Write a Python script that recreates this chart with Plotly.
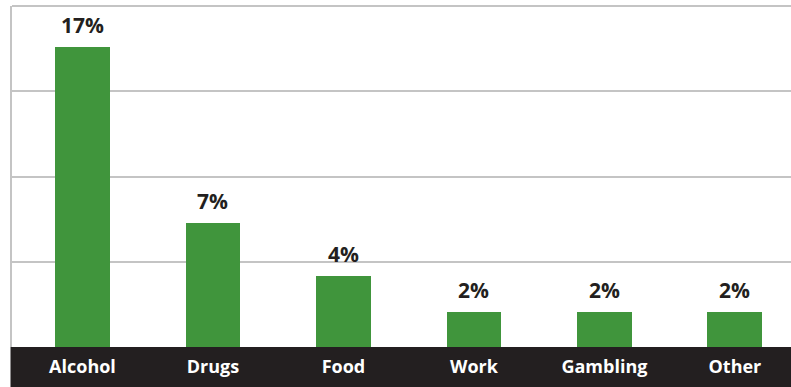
import plotly.graph_objects as go

# Share of respondents by type of addiction
categories = ["Alcohol", "Drugs", "Food", "Work", "Gambling", "Other"]
values = [17, 7, 4, 2, 2, 2]
value_labels = [f"{v}%" for v in values]

Y_MAX = 19.3
GRID_STEP = Y_MAX / 4

BAR_GREEN = "#40953c"
INK = "#231f20"
GRID = "#c4c4c4"

positions = list(range(len(categories)))

fig = go.Figure(
    go.Bar(
        x=positions,
        y=values,
        width=0.42,
        marker=dict(color=BAR_GREEN, line=dict(width=0)),
        hoverinfo="skip",
    )
)

# value labels sitting above each bar
for xp, v, lab in zip(positions, values, value_labels):
    fig.add_annotation(
        x=xp, y=v, text=f"<b>{lab}</b>",
        showarrow=False, yanchor="bottom", yshift=6,
        font=dict(family="Open Sans", size=21, color=INK),
    )

fig.update_layout(
    width=791,
    height=387,
    margin=dict(l=12, r=0, t=6, b=40),
    paper_bgcolor="white",
    plot_bgcolor="white",
    showlegend=False,
    bargap=0,
)

fig.update_xaxes(
    range=[-0.54, 5.43],
    tickmode="array",
    tickvals=positions,
    ticktext=[f"<b>{c}</b>" for c in categories],
    tickfont=dict(family="Open Sans", size=18, color="white"),
    ticks="",
    ticklabelstandoff=7,
    showgrid=False,
    zeroline=False,
    showline=False,
    fixedrange=True,
)

fig.update_yaxes(
    range=[0, Y_MAX],
    tickmode="array",
    tickvals=[GRID_STEP, 2 * GRID_STEP, 3 * GRID_STEP],
    showticklabels=False,
    ticks="",
    showgrid=True,
    gridcolor=GRID,
    gridwidth=2,
    zeroline=False,
    showline=True,
    linecolor=GRID,
    linewidth=2,
    fixedrange=True,
)

# top frame line and dark category band beneath the plot
fig.add_shape(
    type="line", xref="paper", yref="paper",
    x0=0, x1=1, y0=1, y1=1,
    line=dict(color=GRID, width=2),
)
fig.add_shape(
    type="rect", xref="paper", yref="paper",
    x0=-1.5 / 779, x1=1, y0=-41 / 341, y1=0,
    fillcolor=INK, line=dict(width=0), layer="below",
)

fig.write_html("out.html")
